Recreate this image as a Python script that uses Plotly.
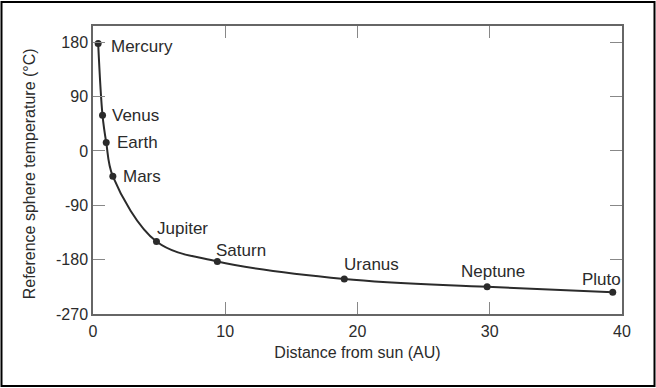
import plotly.graph_objects as go

planets = ["Mercury", "Venus", "Earth", "Mars", "Jupiter", "Saturn", "Uranus", "Neptune", "Pluto"]
distance_au = [0.39, 0.72, 1.0, 1.5, 4.8, 9.4, 19.0, 29.8, 39.3]
temperature_c = [178, 59, 14, -42, -150, -183, -212, -225, -234]
x_ticks = [0, 10, 20, 30, 40]
y_ticks = [180, 90, 0, -90, -180, -270]
y_tick_text = ["180", "90", "0", "-90", "-180", "-270"]

# label offsets in pixels (left edge of label relative to point, vertical shift)
label_dx = [11, 7, 9, 8, -1, -3, -2, -28, -33]
label_dy = [-3, 0, 0, 0, 13, 11, 14, 15, 13]

FONT = "Liberation Sans, Arial, sans-serif"
INK = "#2b2b2b"

fig = go.Figure()
fig.add_trace(go.Scatter(
    x=distance_au, y=temperature_c,
    mode="lines+markers",
    line=dict(color=INK, width=2, shape="spline", smoothing=1.0),
    marker=dict(color=INK, size=7),
    showlegend=False,
    cliponaxis=False,
))

for name, xv, yv, dx, dy in zip(planets, distance_au, temperature_c, label_dx, label_dy):
    fig.add_annotation(x=xv, y=yv, text=name, showarrow=False,
                       xanchor="left", yanchor="middle", xshift=dx, yshift=dy,
                       font=dict(family=FONT, size=17, color=INK))

# y-axis title placed as an annotation to match the original position
fig.add_annotation(xref="paper", yref="paper", x=(29 - 93) / 529, y=0.485,
                   text="Reference sphere temperature (°C)", textangle=-90,
                   showarrow=False, xanchor="center", yanchor="middle",
                   font=dict(family=FONT, size=16, color=INK))

axis_common = dict(
    showline=True, linecolor="#666666", linewidth=1.5, mirror="ticks",
    ticks="inside", ticklen=12, tickcolor="#888888", tickwidth=1,
    showgrid=False, zeroline=False,
    tickfont=dict(family=FONT, size=16, color=INK),
)

fig.update_xaxes(range=[0, 40], tickvals=x_ticks, ticklabelstandoff=2,
                 title=dict(text="Distance from sun (AU)", font=dict(family=FONT, size=16, color=INK), standoff=8),
                 **axis_common)
fig.update_yaxes(range=[-270, 207], tickvals=y_ticks, ticktext=y_tick_text,
                 **axis_common)

# outer frame around the whole image
fig.add_shape(type="rect", xref="paper", yref="paper",
              x0=(1.5 - 93) / 529, x1=(654.5 - 93) / 529,
              y0=(314 - 386) / 288, y1=(314 - 2) / 288,
              line=dict(color="black", width=2), layer="above")

fig.update_layout(
    width=656, height=388,
    margin=dict(l=93, r=34, t=26, b=74),
    paper_bgcolor="white", plot_bgcolor="white",
    font=dict(family=FONT, color=INK),
)

fig.write_html("out.html", config={"displayModeBar": False},
               post_script="document.body.style.margin='0';")
